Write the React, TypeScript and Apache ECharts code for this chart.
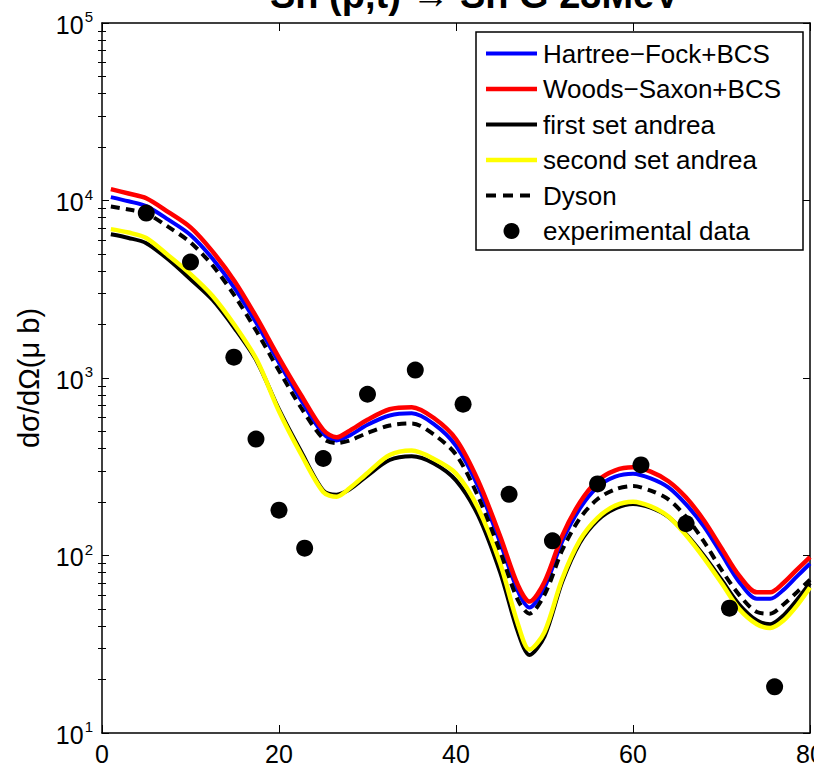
import React, { useEffect, useRef } from "react";
import * as echarts from "echarts";

// Scattering angle grid (degrees)
const angles = [1, 3, 5, 7.5, 10, 12.5, 15, 17.5, 20, 22.5, 25, 26.5, 28, 30, 32.5, 35, 37.5, 40, 42.5, 45, 47, 48.3, 50, 52, 54, 56, 58, 60, 62, 64, 66, 68, 70, 72, 74, 75.5, 77, 78.5, 80];

const hartreeFock = [10450, 9900, 9300, 7800, 6400, 4700, 3200, 2020, 1220, 750, 485, 445, 475, 545, 615, 632, 550, 415, 245, 118, 63, 51, 66, 120, 184, 243, 278, 289, 272, 242, 194, 146, 102, 71, 57, 57, 64, 76, 90];
const woodsSaxon = [11600, 10950, 10300, 8600, 7050, 5150, 3500, 2180, 1300, 800, 510, 463, 505, 582, 667, 685, 595, 452, 264, 128, 68, 55, 71, 129, 199, 264, 302, 314, 297, 262, 212, 158, 110, 77, 62, 62, 70, 83, 98];
const firstSet = [6450, 6150, 5750, 4650, 3600, 2750, 1900, 1240, 665, 385, 232, 220, 236, 282, 345, 362, 330, 265, 168, 80, 37, 27.5, 35, 71, 118, 158, 184, 195, 186, 165, 132, 100, 73, 53, 43, 41, 46, 56, 70];
const secondSet = [6900, 6600, 6150, 4900, 3850, 2900, 1980, 1262, 650, 372, 228, 214, 240, 292, 368, 390, 350, 290, 185, 90, 41, 29.5, 37, 74, 122, 163, 191, 201, 189, 166, 130, 97, 70, 50, 41, 39, 43, 52, 66];
const dyson = [9250, 8900, 8450, 7100, 5800, 4300, 2900, 1820, 1100, 680, 455, 430, 445, 490, 540, 555, 480, 370, 215, 105, 56, 47, 60, 107, 162, 208, 236, 246, 232, 207, 165, 120, 83, 60, 48, 47, 53, 62, 73];

const expAngles = [5.0, 10.0, 14.9, 17.4, 20.0, 22.9, 25.0, 30.0, 35.4, 40.8, 46.0, 50.9, 56.0, 60.9, 66.0, 70.9, 76.0];
const expValues = [8500, 4500, 1310, 453, 180, 110, 352, 810, 1109, 712, 221, 121, 253, 324, 151, 50.5, 18.2];

const xTicks = [0, 20, 40, 60, 80];
const yDecades = [10, 100, 1000, 10000, 100000];
const minorMultipliers = [2, 3, 4, 5, 6, 7, 8, 9];

const seriesNames = ["Hartree\u2212Fock+BCS", "Woods\u2212Saxon+BCS", "first set andrea", "second set andrea", "Dyson", "experimental data"];
const seriesColors = ["#0000ff", "#ff0000", "#000000", "#ffff00", "#000000", "#000000"];
const lineWidths = [4, 4.5, 4, 4.5, 4, 0];

const FONT = "'Liberation Sans', Arial, Helvetica, sans-serif";

const pairs = (xs: number[], ys: number[]) => xs.map((x, i) => [x, ys[i]]);

export default function App() {
  const ref = useRef<HTMLDivElement>(null);
  useEffect(() => {
    document.documentElement.style.overflow = "hidden";
    document.body.style.margin = "0";
    if (!ref.current) return;
    const chart = echarts.init(ref.current, null, { renderer: "svg" });
    const minorValues: number[] = [];
    yDecades.slice(0, -1).forEach((d) => minorMultipliers.forEach((m) => minorValues.push(d * m)));

    const logAxisBase = {
      type: "log" as const,
      logBase: 10,
      min: 10,
      max: 100000,
      gridIndex: 0,
      splitLine: { show: false },
      minorTick: { show: false },
      minorSplitLine: { show: false },
    };

    const lineSeries = (i: number, data: number[], type: any = "solid") => ({
      name: seriesNames[i],
      type: "line",
      data: pairs(angles, data),
      showSymbol: false,
      symbol: "none",
      smooth: 0.3,
      lineStyle: { color: seriesColors[i], width: lineWidths[i], type },
      itemStyle: { color: seriesColors[i] },
      z: 2,
    });

    // legend drawn as graphic elements
    const legendX0 = 486;
    const legendX1 = 537;
    const rowY0 = 53.5;
    const rowStep = 35.5;
    const legendGraphics: any[] = [
      {
        type: "rect",
        shape: { x: 476, y: 32, width: 327, height: 218 },
        style: { fill: "#ffffff", stroke: "#000", lineWidth: 1.5 },
        z: 5,
      },
    ];
    seriesNames.forEach((name, i) => {
      const cy = rowY0 + i * rowStep;
      if (i < 5) {
        legendGraphics.push({
          type: "line",
          shape: { x1: legendX0, y1: cy, x2: legendX1, y2: cy },
          style: {
            stroke: seriesColors[i],
            lineWidth: lineWidths[i],
            lineDash: i === 4 ? [10, 7] : null,
          },
          z: 6,
        });
      } else {
        legendGraphics.push({
          type: "circle",
          shape: { cx: (legendX0 + legendX1) / 2, cy, r: 8 },
          style: { fill: seriesColors[i] },
          z: 6,
        });
      }
      legendGraphics.push({
        type: "text",
        x: 543,
        y: cy,
        style: {
          text: name,
          font: `26px ${FONT}`,
          fill: "#000",
          align: "left",
          verticalAlign: "middle",
        },
        z: 6,
      });
    });

    chart.setOption({
      animation: false,
      backgroundColor: "#ffffff",
      textStyle: { fontFamily: FONT },
      grid: { left: 102, top: 23, right: 4, bottom: 34, containLabel: false, outerBoundsMode: "none" },
      xAxis: [
        {
          type: "value",
          min: 0,
          max: 80,
          interval: 20,
          position: "bottom",
          axisLine: { show: true, onZero: false, lineStyle: { color: "#000", width: 1.5 } },
          axisTick: { show: true, inside: true, length: 8, lineStyle: { color: "#000", width: 1 }, customValues: xTicks },
          axisLabel: { show: true, color: "#000", fontSize: 25, fontFamily: FONT, margin: 8, customValues: xTicks },
          splitLine: { show: false },
        },
        {
          type: "value",
          min: 0,
          max: 80,
          interval: 20,
          position: "top",
          axisLine: { show: true, onZero: false, lineStyle: { color: "#000", width: 1.5 } },
          axisTick: { show: true, inside: true, length: 8, lineStyle: { color: "#000", width: 1 } },
          axisLabel: { show: false },
          splitLine: { show: false },
        },
      ],
      yAxis: [
        {
          ...logAxisBase,
          position: "left",
          axisLine: { show: true, onZero: false, lineStyle: { color: "#000", width: 1.5 } },
          axisTick: { show: true, inside: true, length: 7, lineStyle: { color: "#000", width: 1 } },
          axisLabel: {
            show: true,
            color: "#000",
            margin: 9,
            fontFamily: FONT,
            formatter: (v: number) => `{b|10}{e|${Math.round(Math.log10(v))}}`,
            rich: {
              b: { fontSize: 25, color: "#000", fontFamily: FONT, verticalAlign: "bottom" },
              e: { fontSize: 15, color: "#000", fontFamily: FONT, verticalAlign: "bottom", padding: [0, 0, 13, 1] },
            },
          },
          name: "d\u03c3/d\u03a9(\u03bc b)",
          nameLocation: "middle",
          nameRotate: 90,
          nameGap: 59,
          nameTextStyle: { color: "#000", fontSize: 29, fontFamily: FONT },
        },
        {
          ...logAxisBase,
          position: "left",
          axisLine: { show: false },
          axisTick: { show: true, inside: true, length: 4, lineStyle: { color: "#000", width: 1 }, customValues: minorValues },
          axisLabel: { show: false },
        },
        {
          ...logAxisBase,
          position: "right",
          axisLine: { show: true, onZero: false, lineStyle: { color: "#000", width: 1.5 } },
          axisTick: { show: true, inside: true, length: 7, lineStyle: { color: "#000", width: 1 } },
          axisLabel: { show: false },
        },
        {
          ...logAxisBase,
          position: "right",
          axisLine: { show: false },
          axisTick: { show: true, inside: true, length: 4, lineStyle: { color: "#000", width: 1 }, customValues: minorValues },
          axisLabel: { show: false },
        },
      ],
      graphic: [
        ...legendGraphics,
        {
          type: "text",
          x: 270,
          y: 14,
          style: {
            text: "Sn (p,t) \u2192 Sn G 23MeV",
            font: `bold 38px ${FONT}`,
            fill: "#000",
            align: "left",
            verticalAlign: "bottom",
          },
          z: 6,
        },
      ],
      series: [
        lineSeries(0, hartreeFock),
        lineSeries(1, woodsSaxon),
        lineSeries(2, firstSet),
        lineSeries(3, secondSet),
        lineSeries(4, dyson, [9, 6]),
        {
          name: seriesNames[5],
          type: "scatter",
          data: pairs(expAngles, expValues),
          symbol: "circle",
          symbolSize: 17,
          itemStyle: { color: seriesColors[5], opacity: 1 },
          z: 3,
        },
      ],
    });
    return () => chart.dispose();
  }, []);
  return <div ref={ref} style={{ position: "absolute", left: 0, top: 0, width: 814, height: 767 }} />;
}
